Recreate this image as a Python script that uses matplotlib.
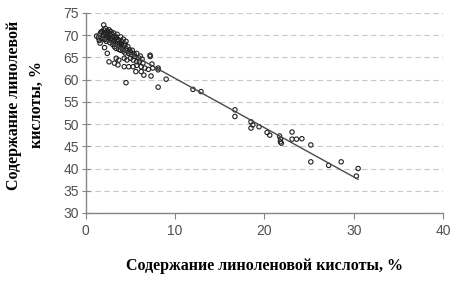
import matplotlib
matplotlib.use("Agg")
import matplotlib.pyplot as plt
import numpy as np

# linolenic acid (x) vs linoleic acid (y), %
linolenic = [
    1.2, 1.4, 1.5, 1.6, 1.6, 1.7, 1.8, 1.8, 1.9, 2.0, 2.0, 2.0, 2.1, 2.1,
    2.2, 2.2, 2.3, 2.3, 2.4, 2.4, 2.5, 2.5, 2.6, 2.6, 2.7, 2.7, 2.8, 2.8,
    2.9, 2.9, 3.0, 3.0, 3.1, 3.1, 3.2, 3.2, 3.3, 3.3, 3.4, 3.4, 3.5, 3.5,
    3.6, 3.6, 3.7, 3.7, 3.8, 3.8, 3.9, 3.9, 4.0, 4.0, 4.1, 4.2, 4.2, 4.3,
    4.4, 4.4, 4.5, 4.5, 4.6, 4.7, 4.8, 4.9, 5.0, 5.1, 5.2, 5.4, 5.5, 5.7,
    5.9, 6.1, 6.3,
    2.1, 2.4, 2.6, 3.2, 3.4, 3.7, 3.6, 4.3, 4.6, 5.0, 5.3, 5.7, 6.0, 6.4,
    4.3, 4.8, 5.3, 5.7, 6.2, 6.6, 7.0, 5.6, 6.2, 6.5, 7.3, 4.5, 7.2, 7.2,
    7.4, 7.5, 8.1, 8.1, 8.1, 9.0, 12.0, 12.9,
    16.7, 16.7, 18.5, 18.7, 18.5, 19.4, 20.3, 20.6, 21.7, 21.8, 21.8, 21.9,
    23.1, 23.1, 23.6, 24.2, 25.2, 25.2, 27.2, 28.6, 30.5, 30.3,
]
linoleic = [
    69.8, 69.4, 68.8, 70.3, 68.2, 70.7, 69.2, 70.8, 69.6, 72.3, 71.2, 70.0, 69.0, 70.5,
    71.5, 69.4, 70.2, 68.6, 71.0, 69.8, 70.6, 68.9, 69.5, 71.2, 70.0, 68.3, 69.2, 70.8,
    68.8, 70.3, 69.6, 67.9, 70.5, 68.5, 69.0, 67.4, 69.8, 68.1, 69.4, 67.0, 68.6, 70.2,
    67.8, 69.0, 68.9, 66.8, 68.2, 67.4, 69.6, 66.6, 67.9, 68.6, 67.2, 69.1, 66.4, 67.6,
    68.0, 66.0, 67.0, 68.6, 66.5, 67.4, 65.9, 66.7, 66.2, 65.6, 66.6, 65.8, 65.2, 65.9,
    64.9, 65.3, 64.6,
    67.2, 65.9, 64.0, 63.7, 64.8, 64.4, 63.3, 64.8, 64.4, 64.8, 64.4, 64.0, 64.0, 63.7,
    62.9, 62.9, 62.9, 63.2, 62.9, 62.6, 62.3, 61.8, 61.8, 61.0, 60.8, 59.3, 65.5, 65.2,
    63.5, 62.6, 62.6, 62.2, 58.3, 60.1, 57.8, 57.3,
    53.2, 51.7, 50.5, 49.8, 49.1, 49.4, 48.1, 47.5, 47.3, 46.6, 46.0, 45.7,
    48.2, 46.6, 46.6, 46.7, 45.3, 41.5, 40.7, 41.5, 40.0, 38.3,
]

x_ticks = [0, 10, 20, 30, 40]
y_ticks = [30, 35, 40, 45, 50, 55, 60, 65, 70, 75]

x = np.array(linolenic)
y = np.array(linoleic)

fig = plt.figure(figsize=(4.59, 2.87), dpi=100)
ax = fig.add_axes([0.187, 0.258, 0.778, 0.697])

ax.set_xlim(0, 40)
ax.set_ylim(30, 75)
ax.set_xticks(x_ticks)
ax.set_yticks(y_ticks)
ax.yaxis.grid(True, color="#c8c8c8", linestyle=(0, (5, 3)), linewidth=0.8)
ax.set_axisbelow(True)

ax.scatter(x, y, s=10, facecolors="none", edgecolors="#222222", linewidths=0.8, zorder=3)

# linear trend line
k, b = np.polyfit(x, y, 1)
xs = np.array([x.min(), x.max()])
ax.plot(xs, k * xs + b, color="#4a4a4a", linewidth=1.0, zorder=4)

for side in ["top", "right"]:
    ax.spines[side].set_visible(False)
for side in ["left", "bottom"]:
    ax.spines[side].set_color("#868686")
    ax.spines[side].set_linewidth(1.0)

ax.tick_params(axis="y", direction="inout", length=6, color="#868686",
               labelsize=10, labelcolor="#505050", pad=2)
ax.tick_params(axis="x", direction="out", length=4, color="#868686",
               labelsize=10, labelcolor="#505050", pad=4)
for lab in ax.get_xticklabels() + ax.get_yticklabels():
    lab.set_fontfamily("Liberation Sans")

ax.set_xlabel("Содержание линоленовой кислоты, %", fontfamily="Liberation Serif",
              fontweight="bold", fontsize=11.5, labelpad=14)
ax.set_ylabel("Содержание линолевой\nкислоты, %", fontfamily="Liberation Serif",
              fontweight="bold", fontsize=11.5, linespacing=1.55,
              multialignment="center")
ax.yaxis.set_label_coords(-0.115, 0.54)

fig.savefig("out.png", dpi=100)
